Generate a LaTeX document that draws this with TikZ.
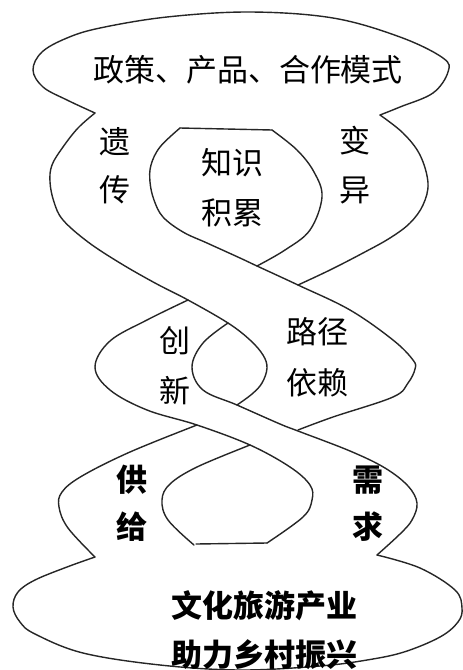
\documentclass[tikz,border=0pt]{standalone}
\usepackage{fontspec}
\newfontfamily\cjk{Noto Sans CJK SC}
\begin{document}
\begin{tikzpicture}[x=1pt,y=-1pt,
  strand/.style={draw=black!85, line width=1.4pt, line join=round, line cap=round},
  lbl/.style={font=\cjk\fontsize{31}{31}\selectfont, inner sep=0pt, text=black},
  blbl/.style={font=\cjk\bfseries\fontsize{31}{31}\selectfont, inner sep=0pt, text=black}]
\useasboundingbox (0,0) rectangle (463,670);
\fill[white] (0,0) rectangle (463,670);
% top ellipse (open at bottom)
\draw[strand] plot[smooth, tension=0.6] coordinates {(95,113) (67,100) (43,87) (33,70) (42,52) (67,38) (100,28) (167,17) (250,12) (333,18) (400,37) (443,58) (448,72) (433,93) (400,107) (380,115)};
% strand A: outer left, then right side of small loop
\draw[strand] plot[smooth, tension=0.6] coordinates {(95,113) (78,128) (63,147) (52,165) (50,182) (54,202) (63,220) (88,242) (120,263) (155,283) (188,300) (228,323) (250,340) (263,355) (267,368) (262,383) (252,394) (237,405)};
% inner top loop, left side continuing into right loop
\draw[strand] (272,130) -- (180,128);
\draw[strand] plot[smooth, tension=0.6] coordinates {(180,128) (160,147) (151,165) (150,182) (154,200) (163,217) (183,232) (207,243) (240,258) (257,266) (298,285) (350,310) (393,340) (413,360) (415,369) (408,383) (393,397) (333,417) (298,430)};
% inner top loop, right side
\draw[strand] plot[smooth, tension=0.6] coordinates {(272,130) (297,150) (314,172) (322,197) (310,230) (285,250) (257,266)};
% outer right top
\draw[strand] plot[smooth, tension=0.6] coordinates {(380,115) (403,133) (420,155) (428,183) (423,205) (410,223) (390,238) (363,253) (330,270) (298,285)};
% strand B: small loop left side, then outer right bottom
\draw[strand] plot[smooth, tension=0.6] coordinates {(228,323) (203,343) (192,367) (203,390) (237,405) (280,424) (298,431) (350,451) (385,468) (408,486) (417,503) (412,520) (400,534) (377,555)};
% big left loop, continuing into right side of bottom inner loop
\draw[strand] plot[smooth, tension=0.6] coordinates {(188,300) (147,320) (110,341) (95,367) (110,390) (147,410) (197,425) (250,445) (290,467) (310,485) (312,500) (303,517) (267,543)};
\draw[strand] (267,543) -- (196,544);
% bottom inner loop left side
\draw[strand] plot[smooth, tension=0.6] coordinates {(250,445) (197,467) (170,484) (162,500) (168,520) (194,545)};
% lower-left outer
\draw[strand] plot[smooth, tension=0.6] coordinates {(197,425) (130,452) (82,476) (62,492) (59,507) (68,528) (95,557)};
% bottom ellipse (open at top)
\draw[strand] plot[smooth, tension=0.6] coordinates {(95,557) (67,567) (35,580) (18,592) (13,607) (20,622) (35,634) (83,653) (160,665) (240,670) (320,666) (367,660) (404,652) (440,637) (458,622) (462,608) (455,590) (420,568) (377,555)};
% labels
\node[lbl] (t1) at (248,70) {政策、产品、合作模式};
\node[lbl] (y1) at (115,142) {遗};
\node[lbl] (y2) at (115,190) {传};
\node[lbl] (z1) at (232,163) {知识};
\node[lbl] (z2) at (232,213) {积累};
\node[lbl] (b1) at (355,141) {变};
\node[lbl] (b2) at (355,190) {异};
\node[lbl] (c1) at (175,341) {创};
\node[lbl] (c2) at (175,391) {新};
\node[lbl] (l1) at (317,332) {路径};
\node[lbl] (l2) at (317,383) {依赖};
\node[blbl] (g1) at (132,480) {供};
\node[blbl] (g2) at (132,527) {给};
\node[blbl] (x1) at (368,480) {需};
\node[blbl] (x2) at (368,527) {求};
\node[blbl] (w1) at (264,606) {文化旅游产业};
\node[blbl] (w2) at (264,655) {助力乡村振兴};
\end{tikzpicture}
\end{document}
